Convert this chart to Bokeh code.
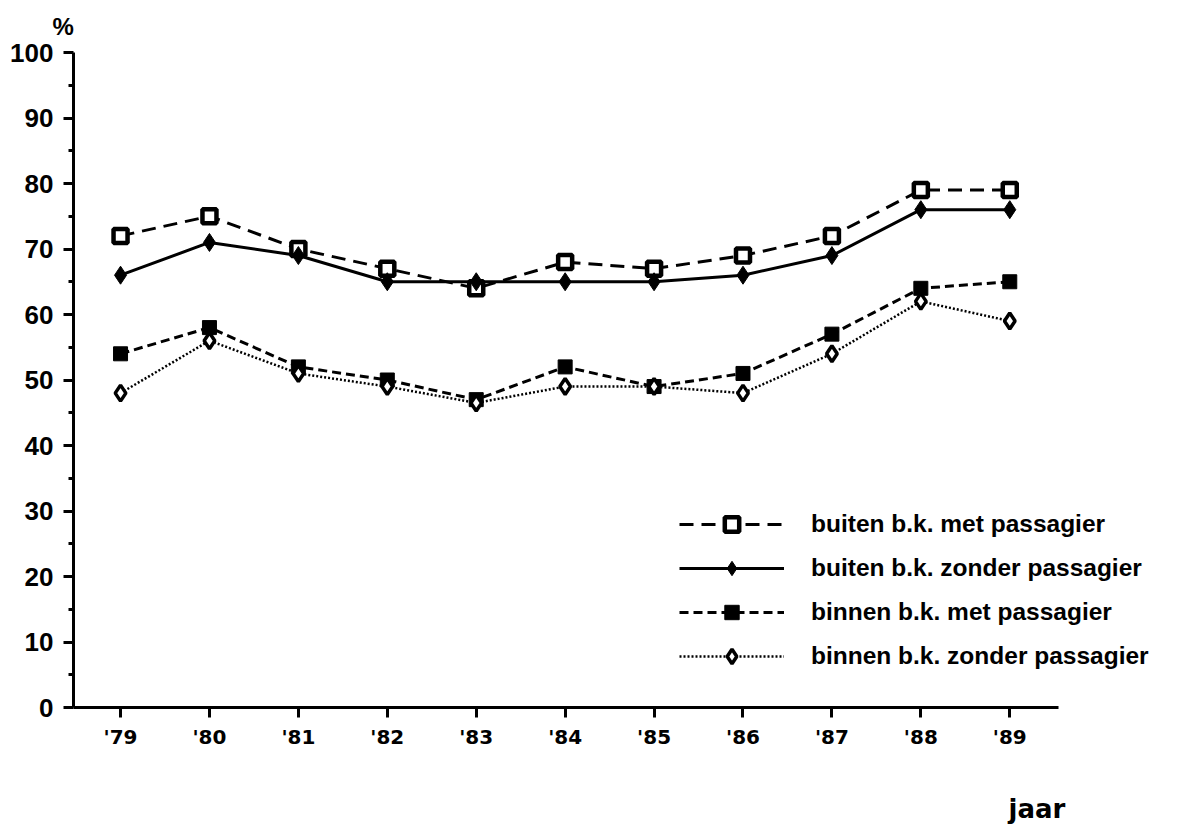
from bokeh.plotting import figure
from bokeh.models import Range1d, FixedTicker, Legend, LegendItem, Title, LinearAxis
from bokeh.embed import file_html
from bokeh.resources import INLINE

years = [1979, 1980, 1981, 1982, 1983, 1984, 1985, 1986, 1987, 1988, 1989]
year_labels = ["'79", "'80", "'81", "'82", "'83", "'84", "'85", "'86", "'87", "'88", "'89"]

buiten_met = [72, 75, 70, 67, 64, 68, 67, 69, 72, 79, 79]
buiten_zonder = [66, 71, 69, 65, 65, 65, 65, 66, 69, 76, 76]
binnen_met = [54, 58, 52, 50, 47, 52, 49, 51, 57, 64, 65]
binnen_zonder = [48, 56, 51, 49, 46.5, 49, 49, 48, 54, 62, 59]

series_names = [
    "buiten b.k. met passagier",
    "buiten b.k. zonder passagier",
    "binnen b.k. met passagier",
    "binnen b.k. zonder passagier",
]

FONT = "Liberation Sans"
WIDE = "DejaVu Sans"

p = figure(width=1197, height=825, output_backend="svg", toolbar_location=None,
           x_range=Range1d(1978.471, 1991.01), y_range=Range1d(0, 100),
           min_border_left=73, min_border_right=9, min_border_top=52, min_border_bottom=118)
p.outline_line_color = None
p.xgrid.visible = False
p.ygrid.visible = False
p.background_fill_color = "white"
p.border_fill_color = "white"

# series 1: buiten met - dashed, open square
l1 = p.line(years, buiten_met, line_color="black", line_width=3, line_dash="14 8")
m1 = p.scatter(years, buiten_met, marker="square", size=14, fill_color="white",
               line_color="black", line_width=4.5)
# series 2: buiten zonder - solid, filled diamond
l2 = p.line(years, buiten_zonder, line_color="black", line_width=3)
m2 = p.scatter(years, buiten_zonder, marker="diamond", size=18, fill_color="black",
               line_color="black", line_width=1)
# series 3: binnen met - short dashes, filled square
l3 = p.line(years, binnen_met, line_color="black", line_width=3, line_dash="9 5")
m3 = p.scatter(years, binnen_met, marker="square", size=14, fill_color="black",
               line_color="black", line_width=1)
# series 4: binnen zonder - dotted, open diamond
l4 = p.line(years, binnen_zonder, line_color="black", line_width=2.5, line_dash="2 2")
m4 = p.scatter(years, binnen_zonder, marker="diamond", size=16, fill_color="white",
               line_color="black", line_width=3.5)

legend = Legend(items=[
    LegendItem(label=series_names[0], renderers=[l1, m1]),
    LegendItem(label=series_names[1], renderers=[l2, m2]),
    LegendItem(label=series_names[2], renderers=[l3, m3]),
    LegendItem(label=series_names[3], renderers=[l4, m4]),
], location=(606, 33))
legend.glyph_width = 105
legend.glyph_height = 36
legend.label_height = 36
legend.spacing = 8
legend.padding = 0
legend.margin = 0
legend.label_standoff = 27
legend.border_line_color = None
legend.background_fill_alpha = 0
legend.label_text_font = FONT
legend.label_text_font_style = "bold"
legend.label_text_font_size = "24.5px"
legend.label_text_color = "black"
p.add_layout(legend, "center")

# y axis
p.yaxis.ticker = FixedTicker(ticks=list(range(0, 101, 10)),
                             minor_ticks=list(range(5, 100, 10)))
p.yaxis.axis_line_width = 3
p.yaxis.major_tick_line_width = 3
p.yaxis.minor_tick_line_width = 3
p.yaxis.major_tick_out = 10
p.yaxis.major_tick_in = 0
p.yaxis.minor_tick_out = 5
p.yaxis.minor_tick_in = 0
p.yaxis.major_label_text_font = FONT
p.yaxis.major_label_text_font_style = "bold"
p.yaxis.major_label_text_font_size = "26px"
p.yaxis.major_label_text_color = "black"
p.yaxis.major_label_standoff = 10
p.yaxis.axis_line_color = "black"

# x axis, limited to the reference's extent
p.xaxis.bounds = (1978.471, 1989.55)
p.xaxis.ticker = FixedTicker(ticks=years, minor_ticks=[])
p.xaxis.major_label_overrides = {y: lab for y, lab in zip(years, year_labels)}
p.xaxis.axis_line_width = 3
p.xaxis.major_tick_line_width = 3
p.xaxis.major_tick_out = 10
p.xaxis.major_tick_in = 0
p.xaxis.minor_tick_line_color = None
p.xaxis.major_label_text_font = WIDE
p.xaxis.major_label_text_font_style = "bold"
p.xaxis.major_label_text_font_size = "20px"
p.xaxis.major_label_text_color = "black"
p.xaxis.major_label_standoff = 7

# blank spacer axis (white tick, no label) under the year labels, then the "jaar" title
spacer_axis = LinearAxis(bounds=(1989.25, 1989.35),
                         ticker=FixedTicker(ticks=[1989.3], minor_ticks=[]),
                         major_label_overrides={1989.3: ""},
                         axis_line_color=None, major_tick_line_color="white",
                         minor_tick_line_color=None, major_tick_out=40, minor_tick_out=0,
                         major_tick_in=0, minor_tick_in=0, major_label_standoff=0,
                         major_label_text_font_size="1px")
p.add_layout(spacer_axis, "below")
p.add_layout(Title(text="jaar", align="left", offset=935, standoff=0, vertical_align="bottom",
                   text_font=WIDE, text_font_style="bold", text_font_size="26px",
                   text_color="black"), "below")

p.add_layout(Title(text="%", align="left", offset=-21, vertical_align="top", standoff=22,
                   text_font=FONT, text_font_style="bold", text_font_size="24px",
                   text_color="black"), "above")

open("out.html", "w").write(file_html(p, INLINE))
